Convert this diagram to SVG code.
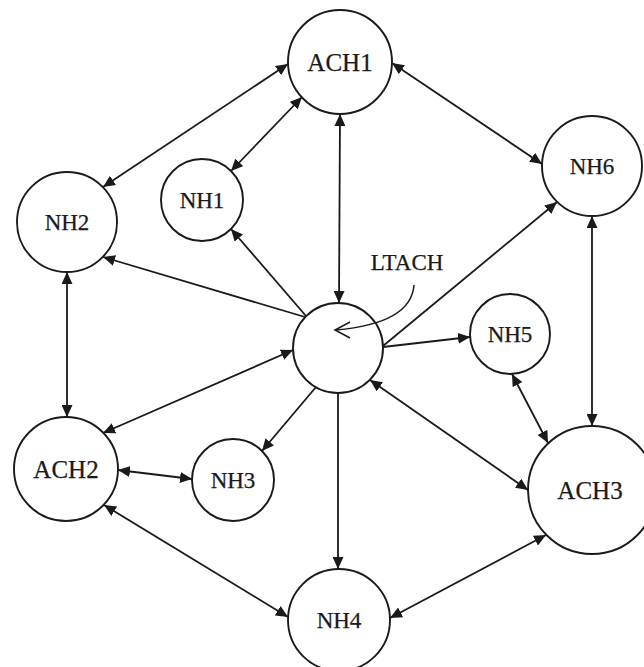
<svg xmlns="http://www.w3.org/2000/svg" width="644" height="667" viewBox="0 0 644 667">
<style>
.n circle{fill:#fff;stroke:#1a1a1a;stroke-width:1.9}
text{font-family:"Liberation Serif","Times New Roman",serif;fill:#1a1a1a;stroke:#1a1a1a;stroke-width:0.25;text-anchor:middle}
.nh{font-size:23px}
.ach{font-size:25px}
.e line{stroke:#1a1a1a;stroke-width:1.8}
.bi{marker-start:url(#ah);marker-end:url(#ah)}
.uni{marker-end:url(#ah)}
</style>
<defs>
<marker id="ah" markerUnits="userSpaceOnUse" markerWidth="13" markerHeight="11" refX="12" refY="5.5" orient="auto-start-reverse">
<path d="M0,0 L12,5.5 L0,11 z" fill="#1a1a1a"/>
</marker>
</defs>
<rect width="644" height="667" fill="#fff"/>
<g id="connectors" class="e">
<line class="bi" x1="103" y1="187" x2="288" y2="64"/>
<line class="bi" x1="231" y1="171" x2="302" y2="97"/>
<line class="bi" x1="340" y1="114" x2="339" y2="303"/>
<line class="bi" x1="392" y1="63" x2="542" y2="164"/>
<line class="uni" x1="306" y1="316" x2="231" y2="229"/>
<line class="uni" x1="305" y1="317" x2="103" y2="257"/>
<line class="uni" x1="383" y1="346" x2="557" y2="202"/>
<line class="uni" x1="383" y1="347" x2="470" y2="337"/>
<line class="bi" x1="293" y1="350" x2="103" y2="433"/>
<line class="uni" x1="316" y1="387" x2="262" y2="451"/>
<line class="uni" x1="338" y1="393" x2="338" y2="569"/>
<line class="bi" x1="370" y1="380" x2="528" y2="490"/>
<line class="bi" x1="67" y1="272" x2="67" y2="417"/>
<line class="bi" x1="118" y1="470" x2="192" y2="479"/>
<line class="bi" x1="104" y1="505" x2="288" y2="617"/>
<line class="bi" x1="512" y1="374" x2="548" y2="443"/>
<line class="bi" x1="592" y1="216" x2="592" y2="426"/>
<line class="bi" x1="546" y1="535" x2="390" y2="618"/>
</g>
<g id="ACH1" class="n"><circle cx="340" cy="62" r="52"/><text class="ach" x="340" y="71">ACH1</text></g>
<g id="NH1" class="n"><circle cx="202" cy="200" r="41"/><text class="nh" x="202" y="208">NH1</text></g>
<g id="NH2" class="n"><circle cx="67" cy="222" r="50"/><text class="nh" x="67" y="230">NH2</text></g>
<g id="NH6" class="n"><circle cx="592" cy="166" r="50"/><text class="nh" x="592" y="174">NH6</text></g>
<g id="LTACH" class="n"><circle cx="338" cy="348" r="45"/>
<text class="nh" x="407" y="270">LTACH</text>
<path d="M414,285 C412,312 382,326 336,330" fill="none" stroke="#1a1a1a" stroke-width="1.5"/>
<path d="M350,322 L335,330 L350,338" fill="none" stroke="#1a1a1a" stroke-width="1.5"/>
</g>
<g id="NH5" class="n"><circle cx="510" cy="334" r="40"/><text class="nh" x="510" y="342">NH5</text></g>
<g id="ACH2" class="n"><circle cx="66" cy="469" r="52"/><text class="ach" x="66" y="478">ACH2</text></g>
<g id="NH3" class="n"><circle cx="233" cy="480" r="41"/><text class="nh" x="233" y="488">NH3</text></g>
<g id="ACH3" class="n"><circle cx="592" cy="490" r="64"/><text class="ach" x="590" y="499">ACH3</text></g>
<g id="NH4" class="n"><circle cx="339" cy="620" r="51"/><text class="nh" x="339" y="628">NH4</text></g>
</svg>
